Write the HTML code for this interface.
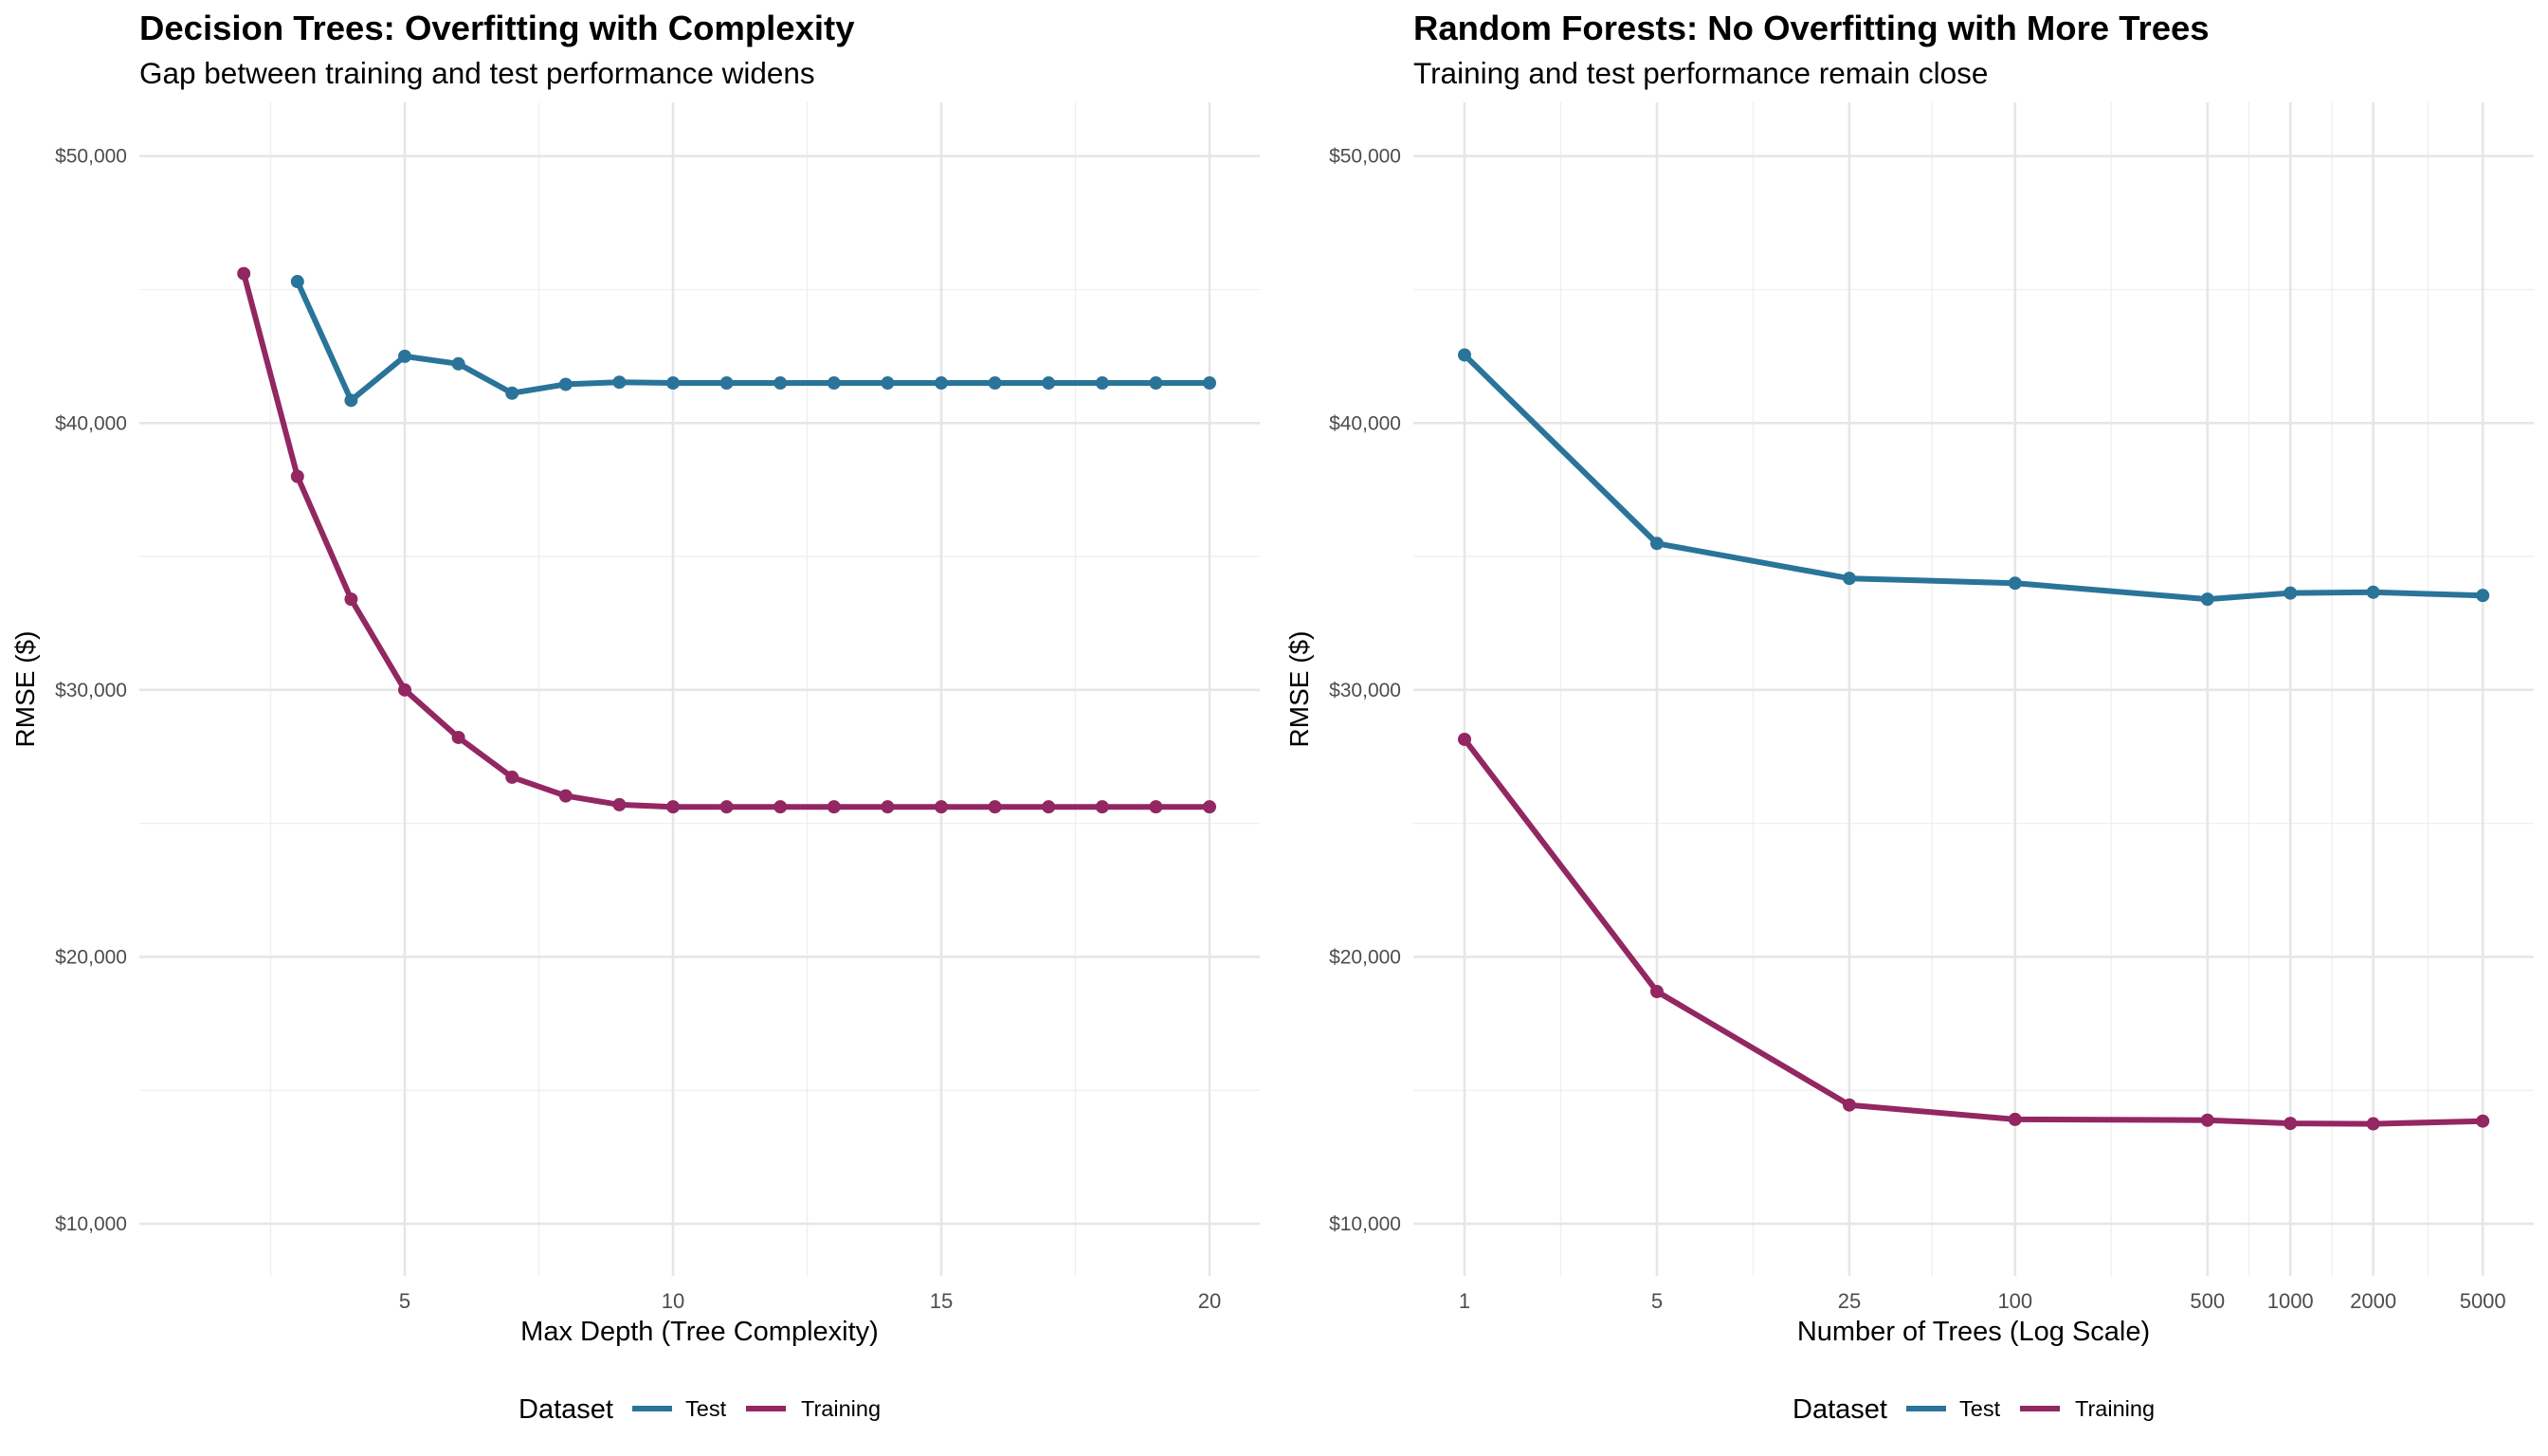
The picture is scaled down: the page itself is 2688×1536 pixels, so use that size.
<!DOCTYPE html>
<html><head><meta charset="utf-8">
<style>
html,body{margin:0;padding:0;background:#fff;}
svg{display:block;font-family:"Liberation Sans",Arial,sans-serif;}
</style></head>
<body>
<svg id="chart" width="2688" height="1536" viewBox="0 0 2688 1536" xmlns="http://www.w3.org/2000/svg">
<rect width="2688" height="1536" fill="#fff"/>
</svg>
<script>
// ----- Data -----
const dtDepthTest = [3,4,5,6,7,8,9,10,11,12,13,14,15,16,17,18,19,20];
const dtTest = [45300,40850,42500,42220,41120,41450,41530,41500,41500,41500,41500,41500,41500,41500,41500,41500,41500,41500];
const dtDepthTrain = [2,3,4,5,6,7,8,9,10,11,12,13,14,15,16,17,18,19,20];
const dtTrain = [45600,38000,33400,30000,28220,26730,26030,25700,25620,25620,25620,25620,25620,25620,25620,25620,25620,25620,25620];
const rfTrees = [1,5,25,100,500,1000,2000,5000];
const rfTest = [42550,35490,34180,34000,33400,33630,33660,33540];
const rfTrain = [28150,18700,14450,13910,13880,13760,13745,13845];
const yTicks = [10000,20000,30000,40000,50000];
const yTickLabels = ["$10,000","$20,000","$30,000","$40,000","$50,000"];
const dtXTicks = [5,10,15,20];
const rfXTicks = [1,5,25,100,500,1000,2000,5000];

const NS = "http://www.w3.org/2000/svg";
const svg = document.getElementById('chart');
const TEST = "#2a7499", TRAIN = "#922762";
function mk(tag, attrs, parent){ const e=document.createElementNS(NS,tag); for(const k in attrs) e.setAttribute(k,attrs[k]); (parent||svg).appendChild(e); return e; }
function txt(s, attrs, parent){ const e=mk('text',attrs,parent); e.textContent=s; return e; }

const PT=108, PB=1346;
function yScale(v){ return 164.7 + (50000 - v) * (1291 - 164.7) / 40000; }

function panel(off, o){
  const g = mk('g', {});
  
  
  const L = off+147, R = off+1329;
  [15000,25000,35000,45000].forEach(v=>{ mk('line',{x1:L,x2:R,y1:yScale(v),y2:yScale(v),stroke:"#efefef","stroke-width":1.3},g); });
  o.minorX.forEach(v=>{ const x=o.x(v); mk('line',{x1:x,x2:x,y1:PT,y2:PB,stroke:"#efefef","stroke-width":1.3},g); });
  yTicks.forEach(v=>{ const l=mk('line',{x1:L,x2:R,y1:yScale(v),y2:yScale(v),stroke:"#e6e6e6","stroke-width":2.6},g);
      });
  o.xTicks.forEach(v=>{ const x=o.x(v); mk('line',{x1:x,x2:x,y1:PT,y2:PB,stroke:"#e6e6e6","stroke-width":2.6},g); });
  yTicks.forEach((v,i)=>{ const t=txt(yTickLabels[i],{x:off+134,y:yScale(v)+7,"text-anchor":"end","font-size":21,fill:"#4d4d4d"},g);
      });
  o.xTicks.forEach((v,i)=>{ const t=txt(o.xLabels[i],{x:o.x(v),y:1380,"text-anchor":"middle","font-size":22,fill:"#4d4d4d"},g);
      });
  o.series.forEach(s=>{
    const d = s.xs.map((xv,i)=>(i?'L':'M')+o.x(xv).toFixed(1)+','+yScale(s.ys[i]).toFixed(1)).join(' ');
    const p = mk('path',{d:d,fill:"none",stroke:s.color,"stroke-width":6,"stroke-linejoin":"round","stroke-linecap":"round"},g);
    
    
    s.xs.forEach((xv,i)=>{ const c=mk('circle',{cx:o.x(xv),cy:yScale(s.ys[i]),r:7,fill:s.color},g);
      
       });
  });
  const t1=txt(o.title,{x:off+147,y:42,"font-size":36.5,"font-weight":"bold",fill:"#000"},g);
   
  const t2=txt(o.subtitle,{x:off+147,y:88,"font-size":31.5,fill:"#000"},g);
   
  const xt=txt(o.xTitle,{x:off+738,y:1414,"text-anchor":"middle","font-size":29,fill:"#000"},g);
   
  const yt=txt("RMSE ($)",{x:0,y:0,"text-anchor":"middle","font-size":28,fill:"#000",transform:`translate(${off+36},727) rotate(-90)`},g);
   
  const lg = mk('g',{},g);
   
  txt("Dataset",{x:off+547,y:1496,"font-size":29,fill:"#000"},lg);
  const k1=mk('line',{x1:off+667,x2:off+709,y1:1486,y2:1486,stroke:TEST,"stroke-width":6},lg);
   
  txt("Test",{x:off+723,y:1494,"font-size":23.5,fill:"#000"},lg);
  const k2=mk('line',{x1:off+787,x2:off+829,y1:1486,y2:1486,stroke:TRAIN,"stroke-width":6},lg);
   
  txt("Training",{x:off+845,y:1494,"font-size":23.5,fill:"#000"},lg);
}

const dtX = v => 427 + (v-5)*56.6;
panel(0,{
  name:'decision-tree-panel', x:dtX, xTicks:dtXTicks, xLabels:dtXTicks.map(String), minorX:[2.5,7.5,12.5,17.5],
  title:"Decision Trees: Overfitting with Complexity", subtitle:"Gap between training and test performance widens",
  xTitle:"Max Depth (Tree Complexity)",
  series:[{name:'test',xs:dtDepthTest,ys:dtTest,color:TEST},{name:'training',xs:dtDepthTrain,ys:dtTrain,color:TRAIN}]
});
const rfX = v => 1545 + Math.log10(v)*290.4;
const minorRF=[];
for(let i=0;i<rfXTicks.length-1;i++) minorRF.push(Math.sqrt(rfXTicks[i]*rfXTicks[i+1]));
panel(1344,{
  name:'random-forest-panel', x:rfX, xTicks:rfXTicks, xLabels:rfXTicks.map(String), minorX:minorRF,
  title:"Random Forests: No Overfitting with More Trees", subtitle:"Training and test performance remain close",
  xTitle:"Number of Trees (Log Scale)",
  series:[{name:'test',xs:rfTrees,ys:rfTest,color:TEST},{name:'training',xs:rfTrees,ys:rfTrain,color:TRAIN}]
});
</script>
</body></html>
